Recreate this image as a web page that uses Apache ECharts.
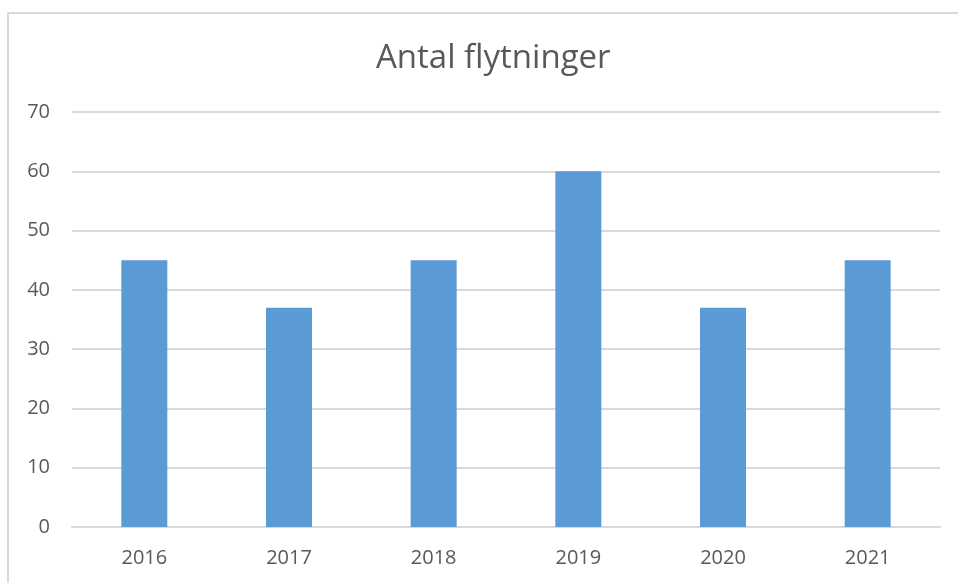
<!DOCTYPE html>
<html>
<head>
<meta charset="utf-8">
<script src="https://cdn.jsdelivr.net/npm/echarts@6/dist/echarts.min.js"></script>
<style>
  html, body { margin: 0; padding: 0; background: #fff; }
  #chart { width: 958px; height: 583px; }
</style>
</head>
<body>
<div id="chart"></div>
<script>
// data
const years = ['2016', '2017', '2018', '2019', '2020', '2021'];
const moves = [45, 37, 45, 60, 37, 45];
const yTicks = { min: 0, max: 70, step: 10 };

const myChart = echarts.init(document.getElementById('chart'));
myChart.setOption({
  animation: false,
  title: {
    text: 'Antal flytninger',
    left: 371,
    top: 37,
    textStyle: { fontFamily: 'Open Sans', fontSize: 33, fontWeight: 'normal', color: '#595959' }
  },
  graphic: [{
    type: 'rect',
    shape: { x: 8, y: 13, width: 1200, height: 1000 },
    style: { fill: 'none', stroke: '#d9d9d9', lineWidth: 2 },
    silent: true
  }],
  grid: { left: 72, right: 18, top: 112, bottom: 56 },
  xAxis: {
    type: 'category',
    data: years,
    axisLine: { lineStyle: { color: '#d9d9d9', width: 2 } },
    axisTick: { show: false },
    axisLabel: { color: '#595959', fontFamily: 'Open Sans', fontSize: 20, margin: 21 }
  },
  yAxis: {
    type: 'value',
    min: yTicks.min,
    max: yTicks.max,
    interval: yTicks.step,
    axisLine: { show: false },
    axisTick: { show: false },
    splitLine: { lineStyle: { color: '#d9d9d9', width: 2 } },
    axisLabel: { color: '#595959', fontFamily: 'Open Sans', fontSize: 20, margin: 22 }
  },
  series: [{
    type: 'bar',
    data: moves,
    barWidth: 46,
    itemStyle: { color: '#5b9bd5' }
  }]
});
</script>
</body>
</html>
